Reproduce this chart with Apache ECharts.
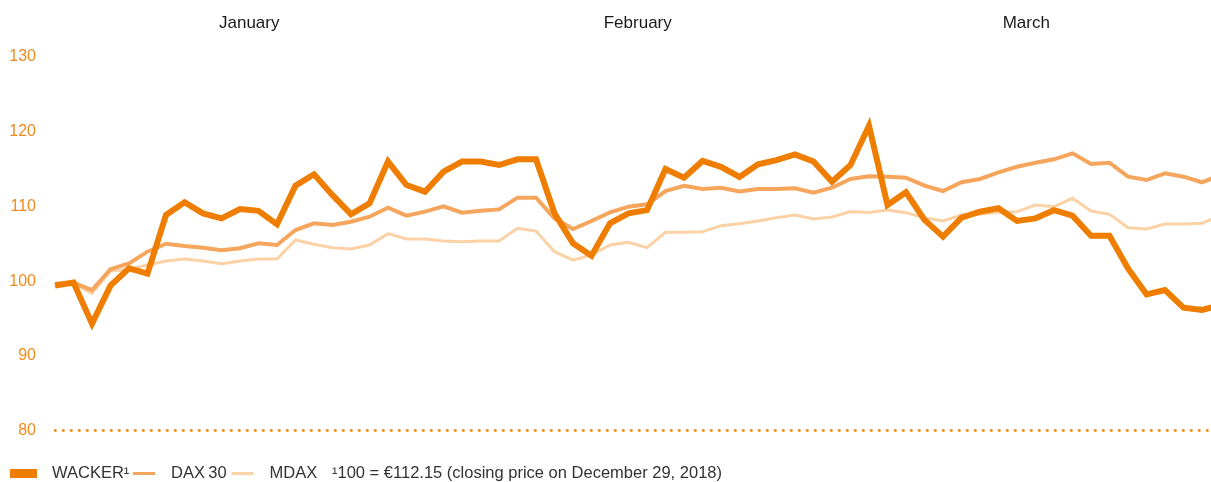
<!DOCTYPE html>
<html>
<head>
<meta charset="utf-8">
<script src="https://cdn.jsdelivr.net/npm/echarts@6/dist/echarts.min.js"></script>
<style>
html,body{margin:0;padding:0;background:#fff;}
#chart{width:1211px;height:482px;}
</style>
</head>
<body>
<div id="chart"></div>
<script>
// Trading-day slots (Q1 2019), index only
const days = ["1","2","3","4","5","6","7","8","9","10","11","12","13","14","15","16","17","18","19","20","21","22",
  "23","24","25","26","27","28","29","30","31","32","33","34","35","36","37","38","39","40","41","42",
  "43","44","45","46","47","48","49","50","51","52","53","54","55","56","57","58","59","60","61","62","63","64"];
const months = ["January", "February", "March"];
const yTicks = [80, 90, 100, 110, 120, 130];

const wacker = [99.4, 99.8, 94.3, 99.4, 101.7, 101.0, 108.85, 110.55, 109.07, 108.4, 109.65, 109.4, 107.6,
  112.77, 114.3, 111.5, 108.94, 110.4, 116.0, 112.86, 111.97, 114.65, 116.0, 116.0, 115.54, 116.3,
  116.3, 109.07, 105.06, 103.4, 107.74, 109.07, 109.5, 115.0, 113.85, 116.08, 115.3, 113.95,
  115.63, 116.2, 116.97, 116.0, 113.3, 115.54, 120.8, 110.19, 111.9, 108.2, 105.95, 108.5,
  109.3, 109.75, 108.05, 108.4, 109.5, 108.76, 106.08, 106.08, 101.7, 98.23, 98.8, 96.44, 96.13, 96.8];

const dax30 = [99.6, 99.8, 98.8, 101.6, 102.38, 103.94, 105.0, 104.7, 104.47, 104.12, 104.4, 105.06, 104.83,
  106.84, 107.74, 107.5, 107.95, 108.62, 109.83, 108.76, 109.3, 110.0, 109.16, 109.43, 109.6, 111.17,
  111.17, 108.4, 106.97, 108.04, 109.2, 109.96, 110.28, 112.06, 112.77, 112.33, 112.5, 112.0,
  112.33, 112.33, 112.42, 111.84, 112.5, 113.67, 114.03, 113.98, 113.85, 112.77, 112.06, 113.23,
  113.67, 114.56, 115.3, 115.85, 116.3, 117.1, 115.68, 115.85, 113.98, 113.53, 114.43, 113.98, 113.23, 114.2];

const mdax = [99.5, 99.7, 98.36, 101.35, 101.6, 102.15, 102.7, 102.96, 102.7, 102.33, 102.7, 102.96, 102.96,
  105.5, 104.93, 104.47, 104.3, 104.83, 106.35, 105.64, 105.64, 105.37, 105.28, 105.37, 105.37, 107.07,
  106.7, 103.94, 102.8, 103.5, 104.83, 105.2, 104.47, 106.53, 106.53, 106.62, 107.42, 107.68,
  108.04, 108.49, 108.85, 108.31, 108.58, 109.3, 109.2, 109.5, 109.16, 108.49, 108.04, 108.85,
  108.94, 109.2, 109.3, 110.19, 109.96, 111.08, 109.38, 108.94, 107.15, 106.97, 107.64, 107.64, 107.74, 108.8];

const names = ["WACKER\u00b9", "DAX\u200930", "MDAX"];
const colors = ["#EF7D00", "#F5A55C", "#FBD1A6"];
const footnote = "\u00b9100 = \u20ac112.15 (closing price on December 29, 2018)";

const FONT = "'Liberation Sans', Arial, sans-serif";
const chart = echarts.init(document.getElementById('chart'), null, {renderer: 'canvas'});
chart.setOption({
  animation: false,
  backgroundColor: '#ffffff',
  textStyle: {fontFamily: FONT},
  grid: {left: 55, top: 57, width: 1165.5, height: 373.5, containLabel: false, outerBoundsMode: 'none'},
  title: {
    text: footnote, left: 327, top: 460,
    textStyle: {fontFamily: FONT, fontSize: 16.5, fontWeight: 'normal', color: '#333333'}
  },
  legend: [
    {
      left: 5, top: 460, itemWidth: 27, itemHeight: 9, icon: 'rect',
      textStyle: {fontFamily: FONT, fontSize: 16.5, color: '#333333', padding: [0, 0, 0, 10]},
      data: [{name: names[0], itemStyle: {color: colors[0]}}]
    },
    {
      left: 128, top: 460, itemWidth: 22, itemHeight: 3, icon: 'rect', itemGap: 5,
      textStyle: {fontFamily: FONT, fontSize: 16.5, color: '#333333', padding: [0, 0, 0, 11]},
      data: [{name: names[1], itemStyle: {color: colors[1]}}, {name: names[2], itemStyle: {color: colors[2]}}]
    }
  ],
  xAxis: [
    {
      type: 'category', data: days, boundaryGap: false, position: 'bottom',
      axisLine: {show: true, lineStyle: {color: '#EF7D00', width: 2.5, type: [0.5, 7.5], cap: 'round'}},
      axisTick: {show: false}, axisLabel: {show: false}, splitLine: {show: false}
    },
    {
      type: 'category', data: months, boundaryGap: true, position: 'top',
      axisLine: {show: false}, axisTick: {show: false}, splitLine: {show: false},
      axisLabel: {color: '#1a1a1a', fontSize: 17, margin: 25, fontFamily: FONT}
    }
  ],
  yAxis: {
    type: 'value', min: 80, max: 130, interval: 10,
    axisLine: {show: false}, axisTick: {show: false}, splitLine: {show: false},
    axisLabel: {color: '#F08A1C', fontSize: 16, margin: 19, fontFamily: FONT,
      formatter: v => yTicks.includes(v) ? String(v) : ''}
  },
  series: [
    {name: names[2], type: 'line', data: mdax, xAxisIndex: 0, symbol: 'none', z: 2,
      itemStyle: {color: colors[2]}, lineStyle: {color: colors[2], width: 3, join: 'miter'}},
    {name: names[1], type: 'line', data: dax30, xAxisIndex: 0, symbol: 'none', z: 3,
      itemStyle: {color: colors[1]}, lineStyle: {color: colors[1], width: 4, join: 'miter'}},
    {name: names[0], type: 'line', data: wacker, xAxisIndex: 0, symbol: 'none', z: 4,
      itemStyle: {color: colors[0]}, lineStyle: {color: colors[0], width: 6, join: 'miter'}}
  ]
});
</script>
</body>
</html>
